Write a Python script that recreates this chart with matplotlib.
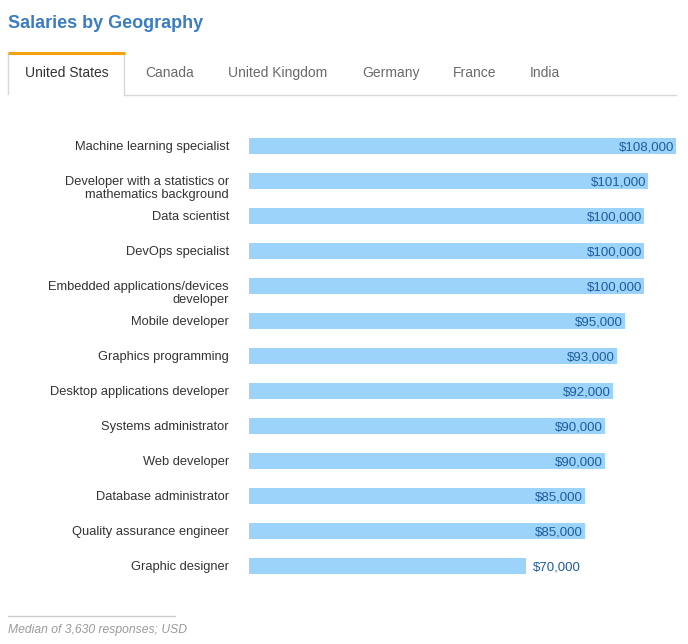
import matplotlib
matplotlib.use("Agg")
import matplotlib.pyplot as plt
from matplotlib.lines import Line2D
from matplotlib.transforms import ScaledTranslation

plt.rcParams['font.family'] = ['Liberation Sans', 'DejaVu Sans']

roles = [
    "Machine learning specialist",
    "Developer with a statistics or\nmathematics background",
    "Data scientist",
    "DevOps specialist",
    "Embedded applications/devices\ndeveloper",
    "Mobile developer",
    "Graphics programming",
    "Desktop applications developer",
    "Systems administrator",
    "Web developer",
    "Database administrator",
    "Quality assurance engineer",
    "Graphic designer",
]
salaries = [108000, 101000, 100000, 100000, 100000, 95000, 93000,
            92000, 90000, 90000, 85000, 85000, 70000]
tabs = ["United States", "Canada", "United Kingdom", "Germany", "France", "India"]
tab_x = [25, 145, 228, 362, 453, 530]

W, H = 688, 644
fig = plt.figure(figsize=(W / 100, H / 100), dpi=100)


def fx(x):
    return x / W


def fy(y):
    return 1 - y / H


# title
fig.text(fx(8), fy(23.5), "Salaries by Geography", fontsize=13, fontweight='bold',
         color='#3b7dc0', va='center', ha='left')

# tabs
for i, (t, x) in enumerate(zip(tabs, tab_x)):
    fig.text(fx(x), fy(73), t, fontsize=10, va='center', ha='left',
             color='#333333' if i == 0 else '#6a6a6a')
fig.add_artist(Line2D([fx(8), fx(8)], [fy(53), fy(94)], color='#d8d8d8', lw=1))
fig.add_artist(Line2D([fx(124.5), fx(124.5)], [fy(53), fy(94)], color='#d8d8d8', lw=1))
fig.add_artist(Line2D([fx(124.5), fx(676)], [fy(94.5), fy(94.5)], color='#d8d8d8', lw=1))
fig.add_artist(Line2D([fx(8), fx(125)], [fy(53), fy(53)], color='#f5a10f', lw=2.2,
                      solid_capstyle='butt'))

# bars
top, bottom = 128.5, 583.5
ax = fig.add_axes([fx(249), fy(bottom), fx(676) - fx(249), (bottom - top) / H])
ypos = list(range(len(roles)))
ax.barh(ypos, salaries, height=16 / 35, color='#9bd3fb')
ax.set_xlim(0, 108000)
ax.set_ylim(len(roles) - 0.5, -0.5)
ax.axis('off')

lab_tr = ax.transData + ScaledTranslation(-20 / 100, 0, fig.dpi_scale_trans)
for y, r, v in zip(ypos, roles, salaries):
    if "\n" in r:
        ty = y + 7.5 / 35
    else:
        ty = y + 0.8 / 35
    ax.text(0, ty, r, ha='right', va='center', multialignment='right',
            fontsize=9.3, color='#333333', linespacing=1.12, transform=lab_tr)
    lab = f"${v:,}"
    if v >= 80000:
        ax.text(v - 500, y + 0.05, lab, ha='right', va='center', fontsize=9.5,
                color='#1f5d99')
    else:
        ax.text(v + 1800, y + 0.05, lab, ha='left', va='center', fontsize=9.5,
                color='#1f5d99')

# footer
fig.add_artist(Line2D([fx(8), fx(175)], [fy(615.5), fy(615.5)], color='#cccccc', lw=1))
fig.text(fx(8), fy(629.5), "Median of 3,630 responses; USD", fontsize=8.7, style='italic',
         color='#9a9a9a', va='center', ha='left')

fig.savefig("out.png", dpi=100)
